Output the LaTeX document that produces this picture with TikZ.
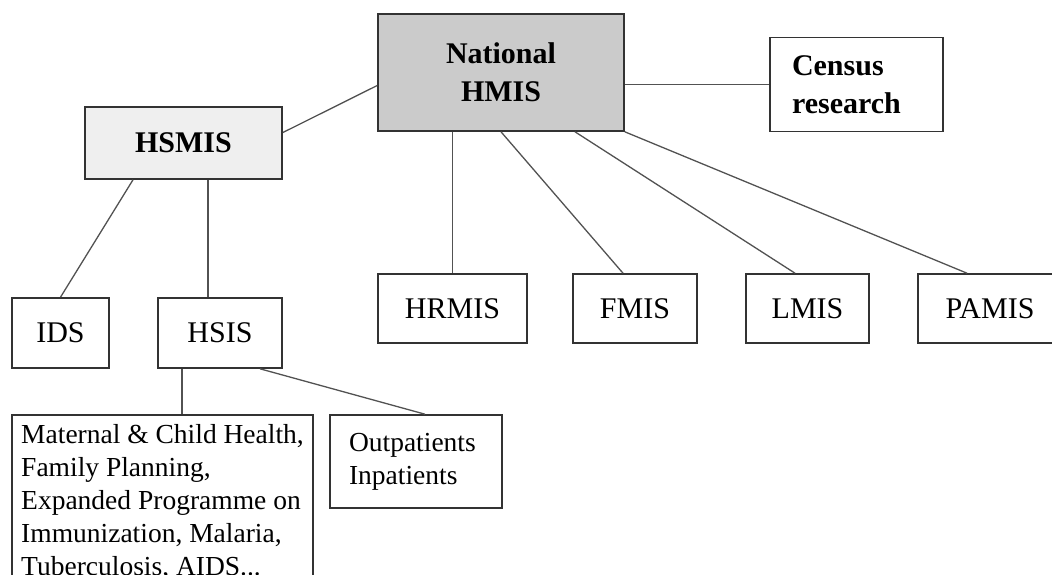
\documentclass[tikz,border=0pt]{standalone}
\usepackage{fontspec}
\setmainfont{Liberation Serif}
\usetikzlibrary{calc}
\definecolor{natgray}{HTML}{CBCBCB}
\definecolor{subgray}{HTML}{EFEFEF}
\definecolor{edgegray}{HTML}{333333}
\tikzset{
  sysbox/.style={draw=edgegray, line width=1.6pt, inner sep=0pt, minimum height=69pt,
    font=\fontsize{30}{38}\selectfont},
  notebox/.style={draw=edgegray, line width=1.6pt, align=left, inner ysep=0pt,
    font=\fontsize{27.5}{33}\selectfont},
  link/.style={draw=edgegray!85, line width=1.3pt},
}

\begin{document}
\begin{tikzpicture}[x=1pt, y=-1pt]
\useasboundingbox (0,0) rectangle (1052,575);
% top level
\node[sysbox, fill=natgray, align=center, minimum width=246, minimum height=117,
  font=\fontsize{30}{38}\selectfont\bfseries] (nat) at (501,72.5) {National\\HMIS};
\node[sysbox, align=left, text width=129, inner xsep=22, minimum height=94,
  font=\fontsize{30}{38}\selectfont\bfseries] (census) at (856.5,84.5) {Census\\research};
\node[sysbox, fill=subgray, minimum width=197, minimum height=72,
  font=\fontsize{30}{38}\selectfont\bfseries] (hsmis) at (183.5,143) {HSMIS};
% second level
\node[sysbox, minimum width=97, minimum height=70] (ids) at (60.5,333) {IDS};
\node[sysbox, minimum width=124, minimum height=70] (hsis) at (220,333) {HSIS};
\foreach \name/\lbl/\x/\w in {hrmis/HRMIS/452.5/149, fmis/FMIS/635/124,
    lmis/LMIS/807.5/123, pamis/PAMIS/990/144}{
  \node[sysbox, minimum width=\w] (\name) at (\x,308.5) {\lbl};
}
% third level
\node[notebox, anchor=north, minimum width=301, minimum height=175] (mch) at (162.5,414)
  {Maternal \& Child Health,\\Family Planning,\\Expanded Programme on\\Immunization, Malaria,\\Tuberculosis, AIDS...};
\node[notebox, text width=134, inner xsep=19, minimum height=93] (opd) at (416,461.5)
  {Outpatients\\Inpatients};
% links
\coordinate (hsisTop) at ([xshift=-12pt]hsis.north);
\coordinate (hsisBot) at ([xshift=-38pt]hsis.south);
\draw[link] (hsmis.6) -- (nat.186);
\draw[link] (nat.east |- census.west) -- (census.west);
\draw[link] (nat.south -| hrmis.north) -- (hrmis.north);
\draw[link] (nat.south) -- ([xshift=-12pt]fmis.north);
\draw[link] ([xshift=74pt]nat.south) -- ([xshift=-12.5pt]lmis.north);
\draw[link] (nat.south east) -- ([xshift=-23pt]pamis.north);
\draw[link] ([xshift=-50.5pt]hsmis.south) -- (ids.north);
\draw[link] (hsisTop |- hsmis.south) -- (hsisTop);
\draw[link] (hsisBot) -- (hsisBot |- mch.north);
\draw[link] ([xshift=40pt]hsis.south) -- ([xshift=9pt]opd.north);
\end{tikzpicture}
\end{document}
